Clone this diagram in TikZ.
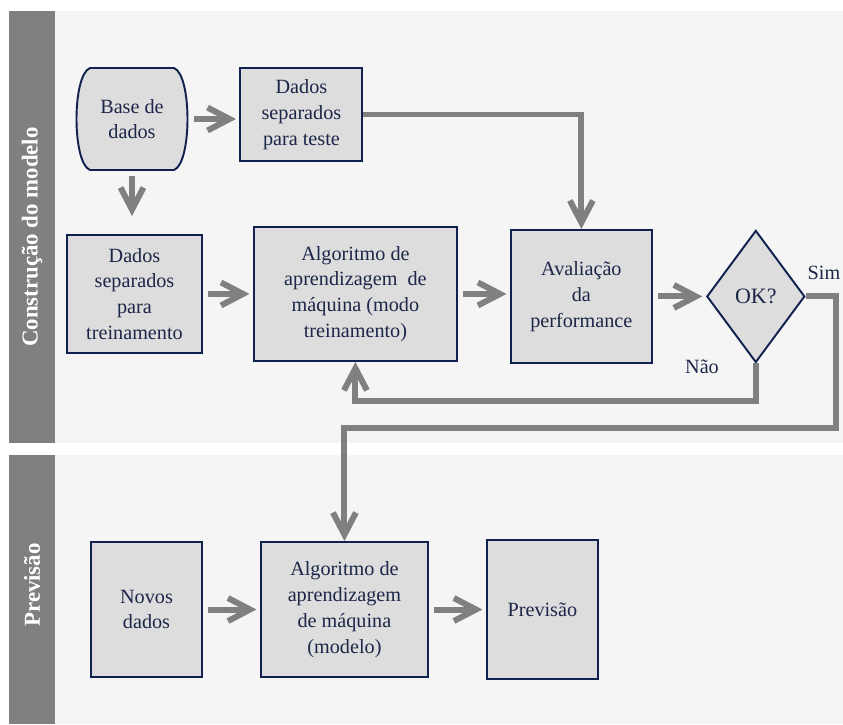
\documentclass[tikz,border=0pt]{standalone}
\usepackage{fontspec}
\setmainfont{Liberation Serif}
\usepackage{xcolor}
\definecolor{boxnavy}{RGB}{16,33,79}
\definecolor{textnavy}{RGB}{28,38,72}
\definecolor{boxgray}{RGB}{221,221,221}
\definecolor{lanegray}{RGB}{245,245,245}
\definecolor{bargray}{RGB}{128,128,128}
\usepackage{tikz}
\usetikzlibrary{shapes.geometric, arrows.meta, positioning}

\begin{document}
\begin{tikzpicture}[node distance=1cm,
        block/.style={rectangle, draw=boxnavy, fill=boxgray, line width=1.1pt, align=center, text=textnavy, inner sep=2pt, font=\fontsize{11.5}{14.7}\selectfont},
        store/.style={block, draw=none, fill=none},
        storeshape/.style={draw=boxnavy, fill=boxgray, line width=1.1pt},
        decision/.style={block, diamond},
        line/.style={draw=bargray, line width=3.4pt, -{Straight Barb[length=4.4mm,width=4.6mm]}},
        short/.style={line, shorten <=3pt, shorten >=2pt},
        lane/.style={fill=lanegray, draw=none},
        bar/.style={fill=bargray, draw=none},
        barlabel/.style={rotate=90, text=white, font=\fontsize{13}{15}\selectfont\bfseries},
        tag/.style={text=textnavy, font=\fontsize{11.5}{14}\selectfont}]

        \useasboundingbox (0,0) rectangle (16.86,-14.48);
        % lanes
        \fill[lane] (1.1,-0.22) rectangle (16.86,-8.86);
        \fill[bar] (0.18,-0.22) rectangle (1.1,-8.86);
        \fill[lane] (1.1,-9.1) rectangle (16.86,-14.48);
        \fill[bar] (0.18,-9.1) rectangle (1.1,-14.48);
        \node [barlabel] (buildlabel) at (0.64,-4.74) {Construção do modelo};
        \node [barlabel] (predlabel) at (0.64,-11.7) {Previsão};

        % stored data outline, curved sides
        \path [storeshape] (1.80,-1.36) -- (3.48,-1.36) .. controls (3.84,-1.50) and (3.84,-3.26) .. (3.48,-3.40)
            -- (1.80,-3.40) .. controls (1.44,-3.26) and (1.44,-1.50) .. (1.80,-1.36) -- cycle;
        \node [store, minimum width=2.22cm, minimum height=2.04cm] (base) at (2.64,-2.38) {Base de\\dados};
        \node [block, minimum width=2.44cm, minimum height=1.86cm, right=1.02cm of base, yshift=0.09cm] (teste) {Dados\\separados\\para teste};
        \node [block, minimum width=2.70cm, minimum height=2.36cm, below=1.26cm of base, xshift=0.05cm] (treino) {Dados\\separados\\para\\treinamento};
        \node [block, minimum width=4.06cm, minimum height=2.68cm, right=1.0cm of treino] (algtreino) {Algoritmo de\\aprendizagem\ \ de\\máquina (modo\\treinamento)};
        \node [block, minimum width=2.82cm, minimum height=2.66cm, right=1.04cm of algtreino, yshift=-0.05cm] (aval) {Avaliação\\da\\performance};
        \node [decision, minimum width=1.96cm, minimum height=2.64cm, inner sep=0pt, right=1.06cm of aval, font=\fontsize{12.5}{15}\selectfont] (ok) {OK?};
        \node [tag] (simtag) at (16.48,-5.46) {Sim};
        \node [tag] (naotag) at (14.04,-7.34) {Não};

        \node [block, minimum width=2.22cm, minimum height=2.70cm] (novos) at (2.93,-12.19) {Novos\\dados};
        \node [block, minimum width=3.34cm, minimum height=2.70cm, right=1.14cm of novos] (algmod) {Algoritmo de\\aprendizagem\\de máquina\\(modelo)};
        \node [block, minimum width=2.22cm, minimum height=2.78cm, right=1.14cm of algmod] (prev) {Previsão};
        \coordinate (simcorner) at (16.72,-8.56);

        \path [short] (base.east) -- (base.east -| teste.west);
        \path [line, shorten <=3pt, shorten >=0.36cm] (base.south) -- (base.south |- treino.north);
        \path [short] (treino) -- (algtreino);
        \path [short] (algtreino) -- (algtreino.east -| aval.west);
        \path [short] (aval) -- (ok);
        \path [line] (teste.east) -| (aval.north);
        \path [line] (ok.south) -- ++(0,-0.76) -| (algtreino.south);
        \path [line] (ok.east) -| (simcorner) -| (algmod.north);
        \path [short] (novos) -- (algmod);
        \path [short] (algmod) -- (prev);
    \end{tikzpicture}
\end{document}
